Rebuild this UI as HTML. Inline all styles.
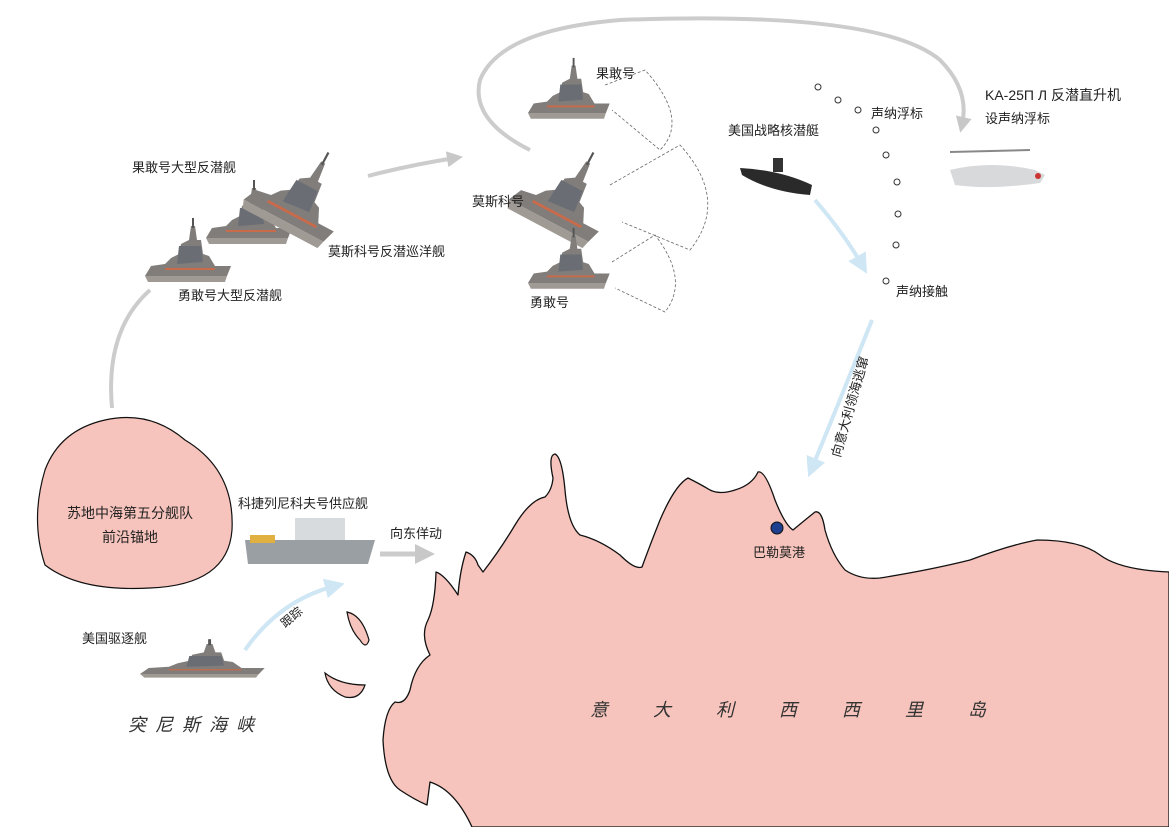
<!DOCTYPE html>
<html><head><meta charset="utf-8"><style>
body{margin:0;background:#fff;}
svg{display:block;font-family:"Liberation Sans","Noto Sans CJK SC",sans-serif;}
</style></head><body>
<svg width="1169" height="827" viewBox="0 0 1169 827" xmlns="http://www.w3.org/2000/svg">
<defs>
<marker id="ga" markerWidth="4" markerHeight="4" refX="2" refY="2" orient="auto"><path d="M0,0L4,2L0,4z" fill="#c8c8c8"/></marker>
<marker id="ba" markerWidth="5" markerHeight="5" refX="2.5" refY="2.5" orient="auto"><path d="M0,0L5,2.5L0,5z" fill="#cfe6f4"/></marker>
<g id="ship">
<path d="M0,40 L82,40 L86,30 L70,30 L64,20 L58,18 L56,4 L52,4 L50,-10 L46,-10 L44,4 L36,8 L34,18 L26,22 L20,28 L6,30 Z" fill="#807d7b"/>
<path d="M34,10 L56,10 L58,26 L32,28 Z" fill="#6a6e74"/>
<path d="M0,40 L82,40 L80,46 L3,46 Z" fill="#a09a95"/>
<rect x="47" y="-18" width="2" height="10" fill="#555"/>
<rect x="20" y="32" width="50" height="2" fill="#c96a4a"/>
</g>
</defs>
<!-- Sicily -->
<path d="M472,827 Q455,790 430,782 L427,805 Q415,800 400,790 Q385,780 383,740 Q385,710 395,702 Q405,705 410,690 Q415,665 430,655 Q420,635 428,620 Q435,605 436,572 Q445,575 458,595 Q460,570 466,552 Q475,555 478,565 L483,572 Q500,550 515,525 Q530,500 545,497 Q552,490 553,478 Q548,455 555,454 Q562,457 565,490 Q568,525 580,535 Q600,540 620,555 Q635,570 642,567 Q650,545 660,520 Q675,485 688,478 Q700,484 710,490 Q720,495 735,490 Q752,485 758,472 Q765,470 775,500 Q785,525 793,530 Q805,520 815,512 Q822,510 825,530 Q832,555 845,570 Q860,580 880,578 Q930,570 970,560 Q1010,545 1037,540 Q1080,540 1100,555 Q1120,570 1169,572 L1169,827 Z" fill="#f6c4bc" stroke="#111" stroke-width="1.3" stroke-linejoin="round"/>
<path d="M347,612 Q362,615 369,640 Q366,650 360,640 Q350,630 347,612 Z" fill="#f6c4bc" stroke="#111" stroke-width="1.2"/>
<path d="M325,673 Q340,685 365,685 Q360,700 345,697 Q328,690 325,673 Z" fill="#f6c4bc" stroke="#111" stroke-width="1.2"/>
<circle cx="777" cy="528" r="6" fill="#1f3f8f" stroke="#111" stroke-width="1"/>
<text x="779" y="557" font-size="13" text-anchor="middle" fill="#222">巴勒莫港</text>
<text x="590" y="716" font-size="18" fill="#333" font-style="italic" letter-spacing="45">意大利西西里岛</text>
<!-- left island -->
<path d="M105,420 Q150,410 185,440 Q235,470 232,530 Q228,585 150,588 Q80,592 45,565 Q30,520 45,470 Q60,430 105,420 Z" fill="#f6c4bc" stroke="#111" stroke-width="1.2"/>
<text x="130" y="518" font-size="14" text-anchor="middle" fill="#222">苏地中海第五分舰队</text>
<text x="130" y="542" font-size="14" text-anchor="middle" fill="#222">前沿锚地</text>
<text x="128" y="731" font-size="18" fill="#333" font-style="italic" letter-spacing="9">突尼斯海峡</text>
<!-- gray arrows -->
<path d="M112,408 Q105,330 150,290" fill="none" stroke="#ccc" stroke-width="4"/>
<path d="M368,176 Q410,165 455,158" fill="none" stroke="#ccc" stroke-width="4" marker-end="url(#ga)"/>
<path d="M530,150 Q470,120 480,80 Q500,30 620,20 Q880,10 940,60 Q970,90 962,125" fill="none" stroke="#ccc" stroke-width="4" marker-end="url(#ga)"/>
<path d="M380,554 L425,554" fill="none" stroke="#ccc" stroke-width="5" marker-end="url(#ga)"/>
<text x="390" y="538" font-size="13" fill="#222">向东佯动</text>
<!-- blue arrows -->
<path d="M815,200 Q845,235 862,265" fill="none" stroke="#cfe6f4" stroke-width="4" marker-end="url(#ba)"/>
<path d="M872,320 Q840,400 812,468" fill="none" stroke="#cfe6f4" stroke-width="4" marker-end="url(#ba)"/>
<text transform="translate(840,458) rotate(-74)" font-size="13" fill="#222">向意大利领海逃窜</text>
<path d="M245,650 Q280,600 335,586" fill="none" stroke="#cfe6f4" stroke-width="4" marker-end="url(#ba)"/>
<text transform="translate(285,628) rotate(-40)" font-size="12" fill="#222">跟踪</text>
<!-- dashed sectors -->
<g fill="none" stroke="#666" stroke-width="0.8" stroke-dasharray="3,2">
<path d="M605,85 L645,70 Q690,120 660,150 L612,110"/>
<path d="M610,185 L680,145 Q730,200 690,250 L622,222"/>
<path d="M612,262 L655,235 Q690,280 665,312 L615,288"/>
</g>
<!-- ships -->
<use href="#ship" transform="translate(145,236) scale(1.0)"/>
<use href="#ship" transform="translate(206,198) scale(1.0)"/>
<g transform="translate(270,150) rotate(28) scale(1.1,1.4)"><use href="#ship"/></g>
<use href="#ship" transform="translate(528,75) scale(0.95)"/>
<g transform="translate(535,150) rotate(28) scale(1.1,1.4)"><use href="#ship"/></g>
<use href="#ship" transform="translate(528,245) scale(0.95)"/>
<use href="#ship" transform="translate(140,650) scale(1.45,0.6)"/>
<path d="M245,540 L375,540 L368,564 L248,564 Z" fill="#9a9fa4"/>
<rect x="295" y="518" width="50" height="22" fill="#d8dbde"/>
<rect x="250" y="535" width="25" height="8" fill="#e0b040"/>
<path d="M740,168 Q780,170 812,185 L810,195 Q770,192 742,175 Z" fill="#2a2a2a"/>
<rect x="773" y="158" width="10" height="14" fill="#333"/>
<path d="M950,170 Q990,160 1035,170 L1045,175 L1040,183 Q990,190 955,185 Z" fill="#d8d9db"/>
<line x1="950" y1="152" x2="1030" y2="150" stroke="#888" stroke-width="2"/>
<circle cx="1038" cy="176" r="3" fill="#c33"/>
<!-- sonobuoys -->
<g fill="#fff" stroke="#333" stroke-width="1">
<circle cx="818" cy="87" r="3"/><circle cx="838" cy="100" r="3"/><circle cx="858" cy="110" r="3"/><circle cx="876" cy="130" r="3"/><circle cx="886" cy="155" r="3"/><circle cx="897" cy="182" r="3"/><circle cx="898" cy="214" r="3"/><circle cx="896" cy="245" r="3"/><circle cx="886" cy="281" r="3"/>
</g>
<g font-size="13" fill="#222">
<text x="132" y="172">果敢号大型反潜舰</text>
<text x="178" y="300">勇敢号大型反潜舰</text>
<text x="328" y="256">莫斯科号反潜巡洋舰</text>
<text x="472" y="206">莫斯科号</text>
<text x="530" y="307">勇敢号</text>
<text x="596" y="78">果敢号</text>
<text x="728" y="135">美国战略核潜艇</text>
<text x="871" y="118">声纳浮标</text>
<text x="896" y="296">声纳接触</text>
<text x="985" y="100" font-size="14">KA-25П Л 反潜直升机</text>
<text x="985" y="123">设声纳浮标</text>
<text x="238" y="508">科捷列尼科夫号供应舰</text>
<text x="82" y="643">美国驱逐舰</text>
</g>
</svg>
</body></html>
